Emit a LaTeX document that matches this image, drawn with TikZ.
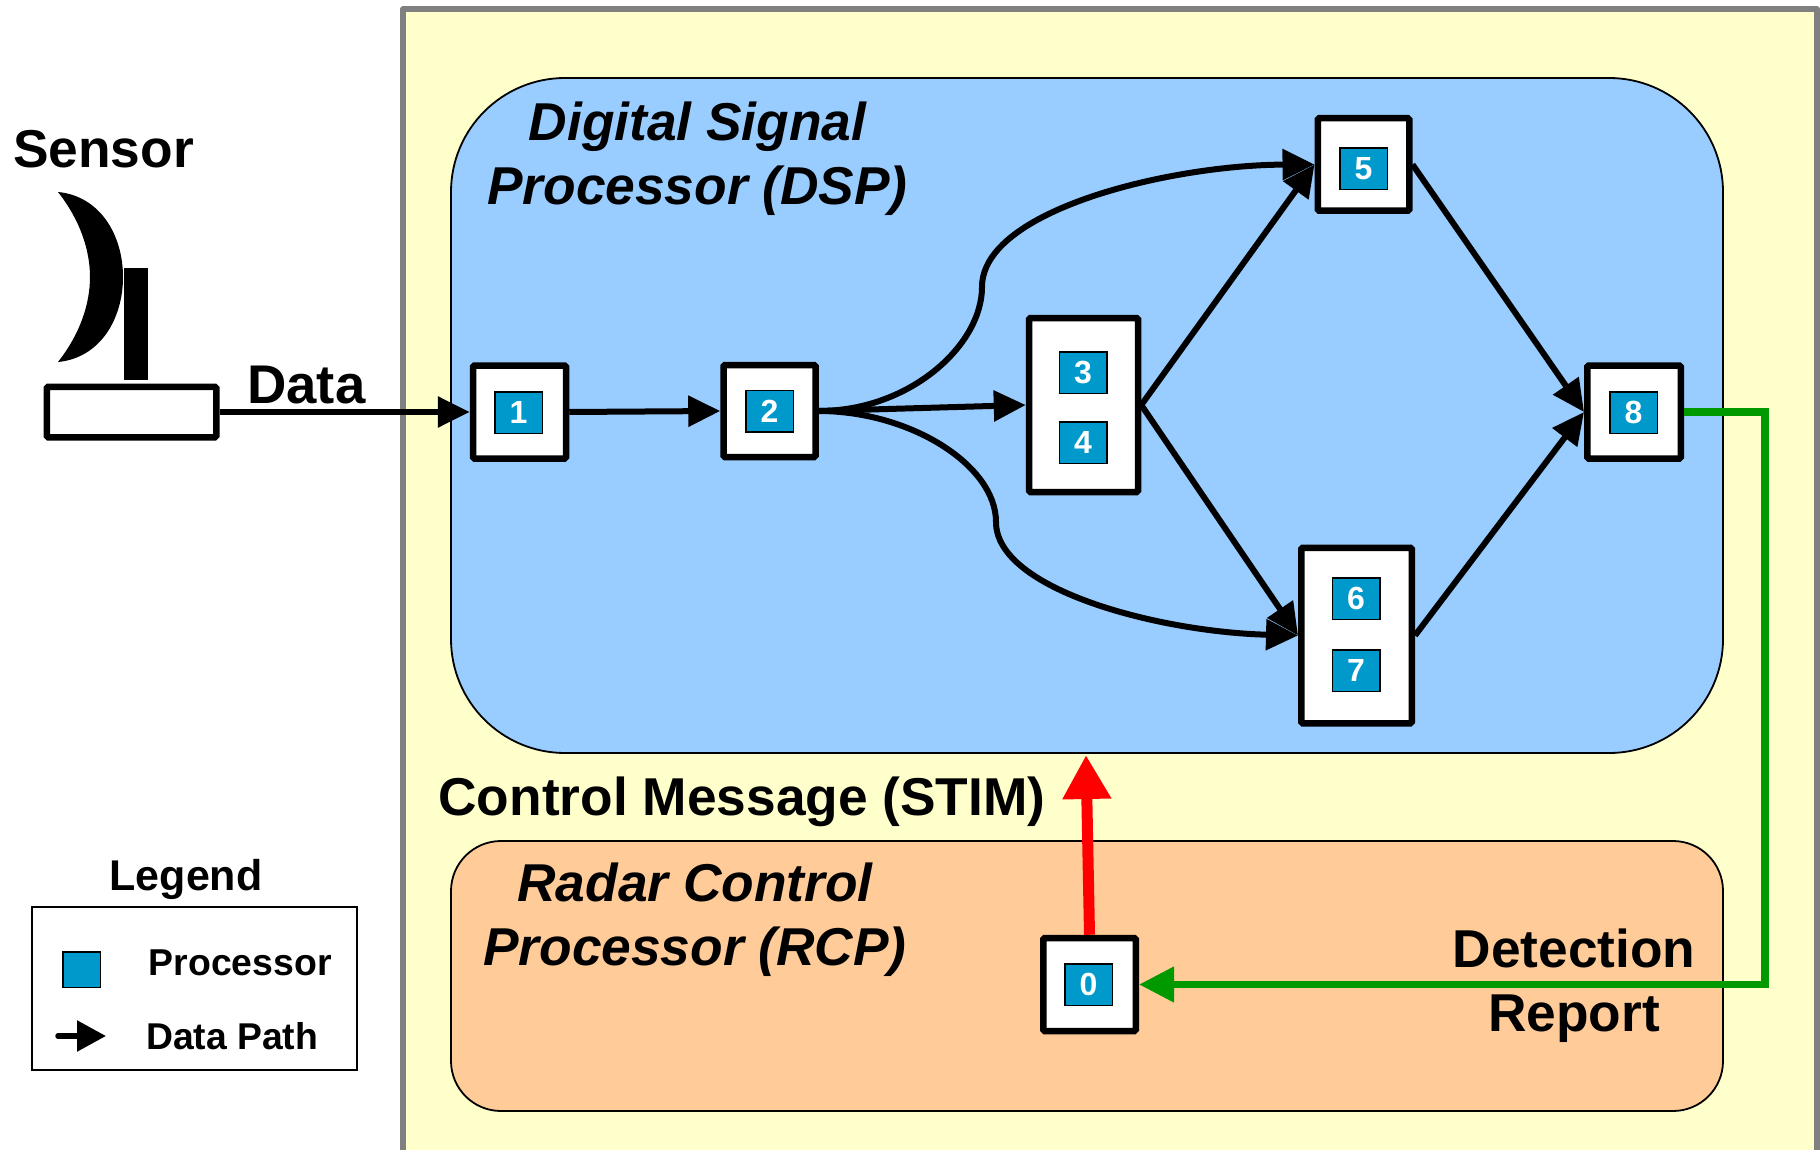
\documentclass[tikz,border=0pt]{standalone}
\usepackage{fontspec}
\setmainfont{Liberation Sans}
\usetikzlibrary{arrows.meta}
\definecolor{panelyellow}{HTML}{FFFFCC}
\definecolor{dspblue}{HTML}{99CCFF}
\definecolor{rcporange}{HTML}{FFCC99}
\definecolor{procblue}{HTML}{0099CC}
\definecolor{pathgreen}{HTML}{009900}
\definecolor{framegray}{HTML}{808080}
\tikzset{
  x=1pt,y=-1pt,
  panel/.style={draw=black,line width=1.8pt,rounded corners=#1},
  stage/.style={draw=black,fill=white,line width=6.5pt,rounded corners=1.5pt,inner sep=0pt},
  proc/.style={draw=black,fill=procblue,line width=1.5pt,inner sep=0pt,text=white,
    font=\fontsize{32}{32}\selectfont\bfseries,minimum width=47.5pt,minimum height=41.5pt},
  flow/.style={draw=black,line width=6pt,-{Triangle[length=32pt,width=30pt]}},
  lab/.style={inner sep=0pt,font=\fontsize{53.3}{64}\selectfont\bfseries,align=center},
  ilab/.style={inner sep=0pt,font=\fontsize{53.3}{64}\selectfont\bfseries\itshape,align=center},
}
\begin{document}
\begin{tikzpicture}
\useasboundingbox (0,0) rectangle (1820,1150);
\fill[white] (0,0) rectangle (1820,1150);
% outer frame
\fill[panelyellow] (403,9) rectangle (1817,1150);
\draw[framegray,line width=5.7pt,line join=round] (403,1150) -- (403,9) -- (1817,9) -- (1817,1150);
% panels
\draw[panel=114pt,fill=dspblue] (451,78) rectangle (1723,753);
\draw[panel=50pt,fill=rcporange] (451,841) rectangle (1723,1111);
% sensor
\fill[black] (58,192) .. controls (100,196) and (123,235) .. (123,277)
  .. controls (123,319) and (100,358) .. (58,362)
  .. controls (80,334) and (90,304) .. (90,277)
  .. controls (90,250) and (80,220) .. (58,192) -- cycle;
\fill[black] (123.6,268) rectangle (147.7,380);
\node[stage,minimum width=169.5pt,minimum height=50.5pt] (sb) at (131.5,412) {};
% stage boxes
\node[stage,minimum width=93pt,minimum height=93pt] (b1) at (519.5,412) {};
\node[stage,minimum width=92pt,minimum height=92pt] (b2) at (769.5,411) {};
\node[stage,minimum width=109pt,minimum height=174pt] (b34) at (1083.5,405) {};
\node[stage,minimum width=91.5pt,minimum height=92.5pt] (b5) at (1363.5,164.5) {};
\node[stage,minimum width=110.5pt,minimum height=175.5pt] (b67) at (1356.5,635.5) {};
\node[stage,minimum width=93.5pt,minimum height=93pt] (b8) at (1634,412) {};
\node[stage,minimum width=92.5pt,minimum height=93pt] (b0) at (1089.5,984.5) {};
% processors
\node[proc] (p1) at (518.5,412.5) {1};
\node[proc] (p2) at (769.5,411) {2};
\node[proc] (p3) at (1083,372.5) {3};
\node[proc] (p4) at (1083,442.5) {4};
\node[proc] (p5) at (1363.5,169) {5};
\node[proc] (p6) at (1356,598.5) {6};
\node[proc] (p7) at (1356,670.5) {7};
\node[proc] (p8) at (1633.5,412.5) {8};
\node[proc] (p0) at (1088.5,984.5) {0};
% connectors
\draw[flow] (sb.east) -- (b1.west);
\draw[flow] (b1.east) -- (b2.west);
\draw[flow] (b2.east) -- (b34.west);
\coordinate (upbend) at (982,287);
\coordinate (lowbend) at (996,522);
\draw[flow] (b2.east) .. controls (910,411) and (982,345) .. (upbend)
  .. controls (982,210) and (1170,165) .. (b5.west);
\draw[flow] (b2.east) .. controls (910,411) and (996,465) .. (lowbend)
  .. controls (996,590) and (1160,632) .. (b67.west);
\draw[flow] (b34.east) -- (b5.west);
\draw[flow] (b34.east) -- (b67.west);
\draw[flow] (b5.east) -- (b8.west);
\draw[flow] (b67.east) -- (b8.west);
\coordinate (gturn) at (1765,700);
\draw[pathgreen,line width=7.5pt,-{Triangle[length=35pt,width=34pt]}] (b8.east) -| (gturn) |- (b0.east);
\coordinate (redtip) at (1086,755);
\draw[red,line width=11pt,-{Triangle[length=44pt,width=46pt]}] (b0.north) -- (redtip);
% labels
\node[lab,anchor=base west] (tsensor) at (13,168) {Sensor};
\node[lab,anchor=base west,font=\fontsize{54.5}{64}\selectfont\bfseries] (tdata) at (247,403) {Data};
\node[ilab,anchor=north] (tdsp) at (697.5,101.5) {Digital Signal\\Processor (DSP)};
\node[ilab,anchor=north] (trcp) at (695,863) {Radar Control\\Processor (RCP)};
\node[lab,anchor=base] (tstim) at (742,815) {Control Message (STIM)};
\node[lab,anchor=north] (tdet) at (1574,929) {Detection\\Report};
% legend
\node[inner sep=0pt,anchor=base,font=\fontsize{43}{43}\selectfont\bfseries] (tleg) at (186,890) {Legend};
\draw[black,line width=1.8pt] (32,907) rectangle (357,1070);
\node[draw=black,fill=procblue,line width=1.5pt,minimum width=37.5pt,minimum height=35.5pt,inner sep=0pt] (lp) at (81.5,969.5) {};
\node[inner sep=0pt,anchor=base west,font=\fontsize{37.4}{37.4}\selectfont\bfseries] (tproc) at (148.5,975) {Processor};
\coordinate (la) at (58,1036);
\coordinate (lb) at (106,1036);
\draw[black,line width=5.5pt,line cap=round,-{Triangle[length=29pt,width=30pt]}] (la) -- (lb);
\node[inner sep=0pt,anchor=base west,font=\fontsize{37.3}{37.3}\selectfont\bfseries] (tpath) at (146,1049) {Data Path};
\end{tikzpicture}
\end{document}
